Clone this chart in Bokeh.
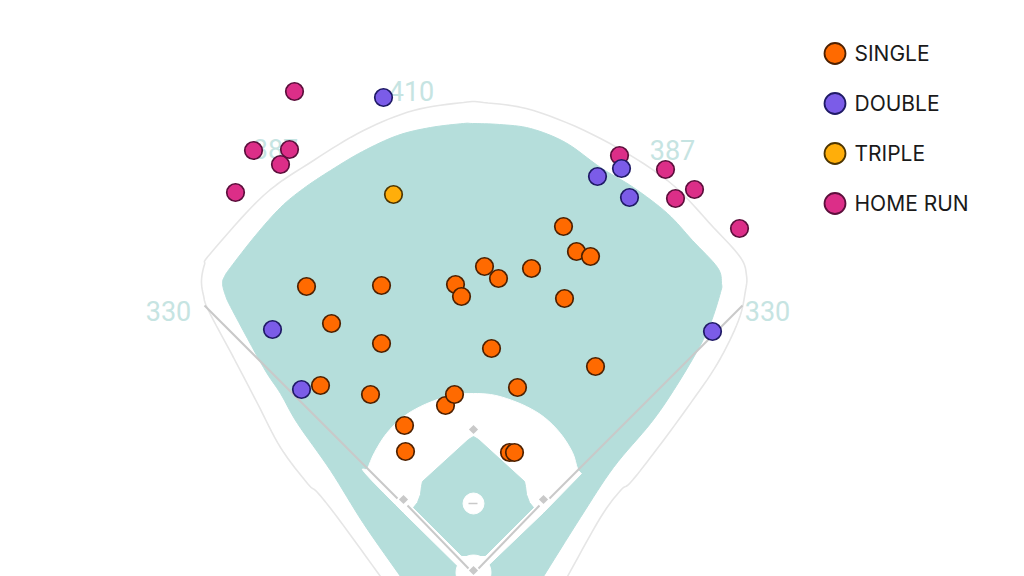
from bokeh.plotting import figure
from bokeh.models import Range1d
from bokeh.core.properties import value
from bokeh.embed import file_html
from bokeh.resources import INLINE

single_x = [306, 381, 455, 461, 484, 498, 531, 563, 576, 590, 564, 331, 381, 491, 595, 320, 370, 445, 454, 517, 404, 405, 509, 514]
single_y = [286, 285, 284, 296, 266, 278, 268, 226, 251, 256, 298, 323, 343, 348, 366, 385, 394, 405, 394, 387, 425, 451, 452, 452]
double_x = [383, 597, 621, 629, 272, 301, 712]
double_y = [97, 176, 168, 197, 329, 389, 331]
triple_x = [393]
triple_y = [194]
homer_x = [294, 253, 289, 280, 235, 619, 665, 694, 675, 739]
homer_y = [91, 150, 149, 164, 192, 155, 169, 189, 198, 228]

legend_labels = ["SINGLE", "DOUBLE", "TRIPLE", "HOME RUN"]
legend_y = [53, 103, 153, 203]
legend_fill = ["#ff6a00", "#7b5ce8", "#ffae0a", "#dc2e88"]
legend_line = ["#4d2000", "#1f1a66", "#4d3500", "#5c0f3c"]

dist_labels = ["330", "387", "410", "387", "330"]
dist_x = [168, 275, 411, 672, 767]
dist_y = [310, 148, 90, 149, 310]

wall_x = [380, 337, 317, 307, 280, 257, 233, 208, 203, 201, 204, 210, 263, 313, 363, 413, 463, 483,
          533, 600, 667, 713, 740, 746, 745, 738, 717, 687, 653, 630, 620, 600, 567]
wall_y = [576, 517, 492, 483, 447, 403, 357, 310, 295, 280, 264, 253, 195, 160, 130, 110, 102, 102,
          110, 138, 180, 227, 257, 275, 290, 320, 363, 407, 453, 482, 490, 517, 576]

grass_x = [400, 363, 330, 297, 280, 263, 232, 225, 222, 224, 230, 255, 280, 303, 330, 362, 397, 430, 463, 472,
           499, 530, 565, 600, 633, 667, 692, 717, 721, 720, 710, 697, 673, 650, 613, 580, 543]
grass_y = [576, 523, 470, 423, 393, 367, 310, 295, 283, 276, 267, 235, 207, 188, 170, 151, 135, 127, 123, 123,
           124, 128, 142, 167, 187, 213, 240, 267, 283, 292, 323, 350, 390, 423, 467, 517, 576]

infield_x = [472, 403, 364, 367, 374, 386, 402, 420, 440, 456, 473, 490, 506, 526, 544, 560, 572, 577, 581, 543]
infield_y = [580, 512, 472, 468, 452, 433, 417, 406, 398, 394, 393, 394, 398, 406, 417, 433, 452, 468, 473, 512]

diamond_x = [473, 478, 524, 525, 526, 529, 533, 485, 461, 413, 417, 420, 421, 422, 468]
diamond_y = [436, 439, 481, 486, 494, 502, 507, 555, 555, 507, 502, 494, 486, 481, 439]

foul_left_x = [204, 397]
foul_left_y = [305, 498]
home_left_x = [407, 468]
home_left_y = [505, 568]
foul_right_x = [742, 549]
foul_right_y = [305, 498]
home_right_x = [539, 478]
home_right_y = [505, 568]
bases_x = [473, 403, 543, 473]
bases_y = [429, 499, 499, 570]

GRASS = "#b5dedb"
WHITE = "#ffffff"
LINE = "#c9c9c9"


def smooth(xs, ys, steps=8):
    """Catmull-Rom curve through hand-read outline points."""
    px = [xs[0]] + list(xs) + [xs[-1]]
    py = [ys[0]] + list(ys) + [ys[-1]]
    ox, oy = [], []
    for i in range(1, len(px) - 2):
        for s in range(steps):
            t = s / steps
            for src, out in ((px, ox), (py, oy)):
                a, b, c, d = src[i - 1], src[i], src[i + 1], src[i + 2]
                out.append(0.5 * (2 * b + (c - a) * t + (2 * a - 5 * b + 4 * c - d) * t * t
                                  + (3 * b - a - 3 * c + d) * t ** 3))
    ox.append(xs[-1])
    oy.append(ys[-1])
    return ox, oy


p = figure(width=1024, height=576, x_range=Range1d(0, 1024), y_range=Range1d(576, 0),
           output_backend="svg", toolbar_location=None, min_border=0,
           outline_line_color=None, background_fill_color=WHITE, border_fill_color=WHITE)
p.axis.visible = False
p.grid.visible = False

wx, wy = smooth(wall_x, wall_y)
p.line(wx, wy, line_color="#e6e6e6", line_width=1.6)
gx, gy = smooth(grass_x, grass_y)
p.patch(gx, gy, fill_color=GRASS, line_color=GRASS)
ix, iy = smooth(infield_x[1:-1], infield_y[1:-1], steps=4)
p.patch([infield_x[0]] + ix + [infield_x[-1]], [infield_y[0]] + iy + [infield_y[-1]], fill_color=WHITE, line_color=WHITE)
p.patch(diamond_x, diamond_y, fill_color=GRASS, line_color=GRASS)
p.scatter([473], [572], size=35, fill_color=WHITE, line_color=WHITE)
p.scatter([473], [503], size=21, fill_color=WHITE, line_color=WHITE)
p.line([468, 477], [503, 503], line_color=LINE, line_width=1.5)

for xs, ys in [(foul_left_x, foul_left_y), (home_left_x, home_left_y),
               (foul_right_x, foul_right_y), (home_right_x, home_right_y)]:
    p.line(xs, ys, line_color=LINE, line_width=2)
p.scatter(bases_x, bases_y, marker="square", angle=0.785, size=6.5, fill_color=LINE, line_color=None)

p.text(dist_x, dist_y, text=dist_labels, text_font=value("Roboto"),
       text_font_size="27px", text_color="#c6e4e2", text_align="center", text_baseline="middle")

order = [(homer_x, homer_y, 3), (double_x, double_y, 1), (triple_x, triple_y, 2), (single_x, single_y, 0)]
for xs, ys, i in order:
    p.scatter(xs, ys, size=17.5, fill_color=legend_fill[i], line_color=legend_line[i], line_width=1.7)

p.scatter([834.5] * 4, legend_y, size=21, fill_color=legend_fill, line_color=legend_line, line_width=1.8)
p.text([854] * 4, legend_y, text=legend_labels, text_font=value("Inter"), text_font_size="21px",
       text_color="#1a1a1a", text_align="left", text_baseline="middle")

open("out.html", "w").write(file_html(p, INLINE))
